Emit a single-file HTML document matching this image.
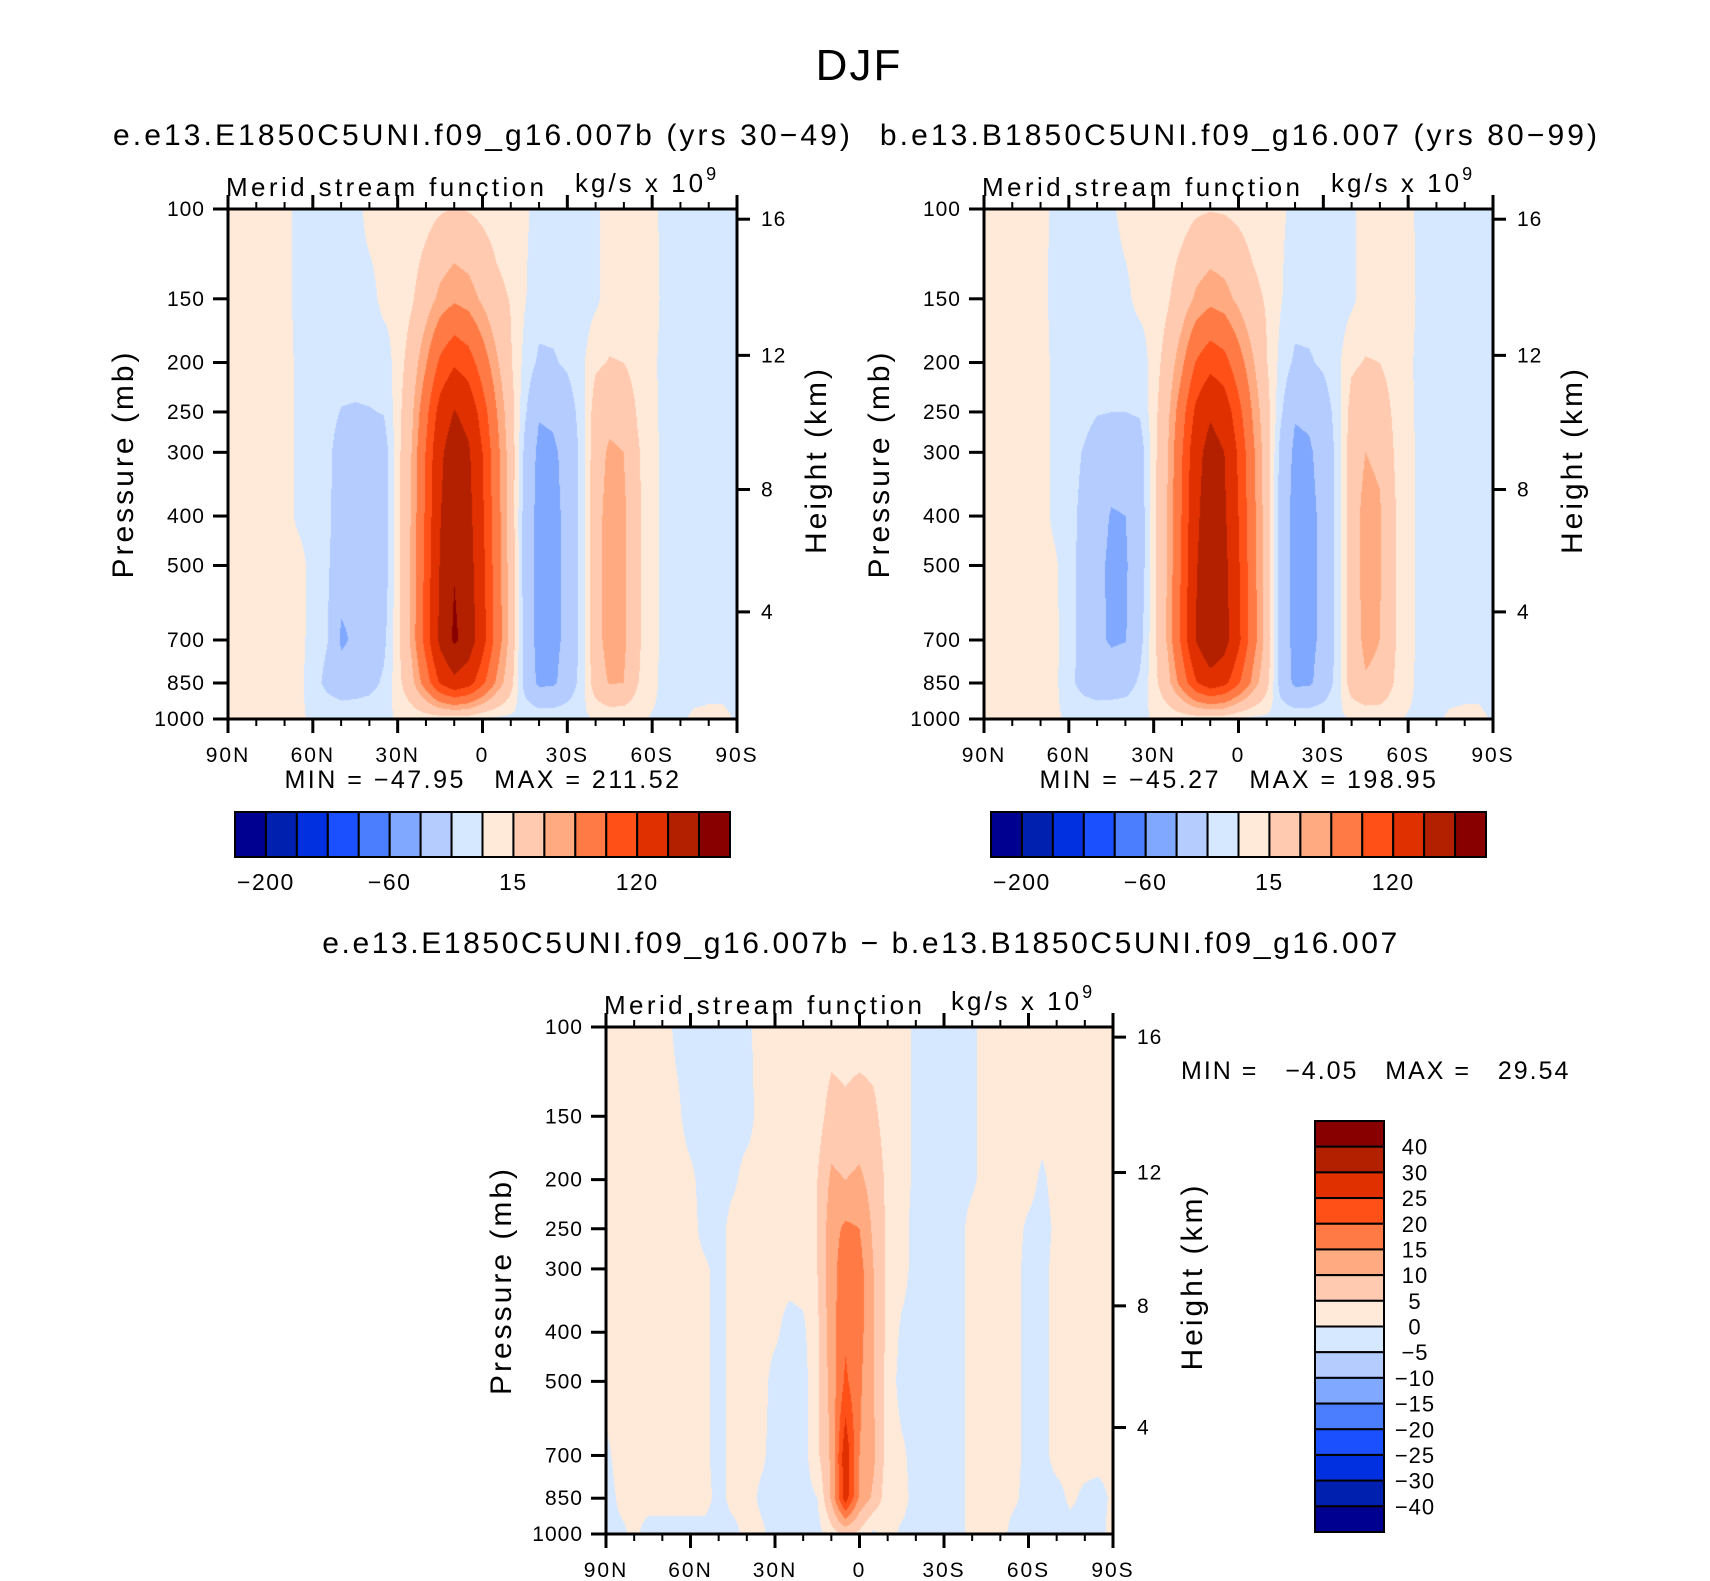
<!DOCTYPE html>
<html><head><meta charset="utf-8">
<style>
html,body{margin:0;padding:0;background:#fff;}
#wrap{position:relative;width:1710px;height:1581px;overflow:hidden;background:#fff;font-family:"Liberation Sans",sans-serif;}
canvas{position:absolute;}
svg{position:absolute;left:0;top:0;}
svg text{white-space:pre;}
</style></head>
<body>
<div id="wrap">
<canvas id="c1" width="509" height="510" style="left:228px;top:209px"></canvas>
<canvas id="c2" width="509" height="510" style="left:984px;top:209px"></canvas>
<canvas id="c3" width="507" height="507" style="left:606px;top:1027px"></canvas>
<svg id="ov" width="1710" height="1581"></svg>
</div>
<script>
// ---- data ----
const levels = [100,150,200,250,300,400,500,700,850,1000];
const lats = [90,85,80,75,70,65,60,55,50,45,40,35,30,25,20,15,10,5,0,-5,-10,-15,-20,-25,-30,-35,-40,-45,-50,-55,-60,-65,-70,-75,-80,-85,-90];
const contourLevelsTop = [-200,-160,-120,-90,-60,-40,-15,0,15,40,60,90,120,160,200];
const contourLevelsDiff = [-40,-30,-25,-20,-15,-10,-5,0,5,10,15,20,25,30,40];
const palette = ["#000090","#0020b0","#0030e0","#1a50ff","#4a7dff","#80a8ff","#b4ccff","#d6e8ff","#ffeada","#ffcab0","#ffaa80","#ff7a45","#ff5018","#e03000","#b22000","#880000"];
const topCbarLabels = ["-200","-60","15","120"];
const topCbarLabelIdx = [0,4,8,12];
const diffCbarLabels = ["40","30","25","20","15","10","5","0","\u22125","\u221210","\u221215","\u221220","\u221225","\u221230","\u221240"];
const pressureTicks = [100,150,200,250,300,400,500,700,850,1000];
const heightTicks = ["16","12","8","4"];
const heightFrac = [0.02,0.287,0.55,0.79];
const xTickLabels = ["90N","60N","30N","0","30S","60S","90S"];

const field1 = [
[5,5,5,5,5,-5,-5,-5,-5,-5,5,5,3,4,8,13,16,14,10,6,3,2,-4,-4,-4,-4,-2,4,4,4,4,-5,-5,-5,-5,-5,-5],
[5,5,5,5,5,-5,-5,-5,-5,-5,-5,4,3,13,28,46,56,50,36,21,14,1,-8,-8,-8,-8,-3,6,6,6,6,-5,-5,-5,-5,-5,-5],
[5,5,5,5,5,-3,-7,-7,-7,-7,-7,-8,6,26,58,96,116,104,75,44,17,-5,-18,-17,-12,-4,12,16,15,8,3,-5,-5,-5,-5,-5,-5],
[5,5,5,5,5,-3,-6,-8,-16,-17,-16,-14,8,36,81,134,162,146,105,61,24,-12,-38,-36,-26,-8,24,32,30,13,4,-5,-5,-5,-5,-5,-5],
[5,5,5,5,5,-3,-6,-10,-25,-26,-26,-26,9,41,92,152,184,166,120,69,28,-20,-46,-44,-33,-10,28,44,40,17,5,-5,-5,-5,-5,-5,-5],
[5,5,5,5,5,-3,-6,-10,-28,-27,-26,-26,10,43,96,158,192,173,125,72,29,-24,-48,-46,-35,-10,30,50,45,18,5,-5,-5,-5,-5,-5,-5],
[5,5,5,5,5,5,-5,-12,-30,-32,-27,-26,10,45,99,163,198,178,129,74,30,-24,-48,-46,-35,-10,30,50,45,18,5,-5,-5,-5,-5,-5,-5],
[5,5,5,5,5,5,-6,-14,-44,-36,-28,-20,10,46,103,170,206,185,134,77,31,-24,-48,-46,-35,-10,30,50,45,18,5,-5,-5,-5,-5,-5,-3],
[4,4,4,4,4,4,-8,-20,-28,-26,-22,-12,8,34,75,124,150,135,98,56,23,-22,-45,-44,-30,-8,26,42,40,16,4,-5,-5,-5,-3,-3,-3],
[2,2,2,2,2,2,-2,-2,-2,-2,-2,-2,1,3,5,6,6,5,-1,-3,-3,-3,-3,-3,-3,-3,1,2,2,2,-1,-2,-2,2,2,2,-1]
];
const field2 = [
[5,5,5,5,4,-3,-5,-5,-5,-2,4,5,3,4,7,12,14,13,10,6,3,2,-3,-4,-4,-4,-2,4,4,4,4,-5,-5,-5,-5,-5,-5],
[5,5,5,5,5,-5,-5,-5,-5,-5,-3,4,3,13,27,44,53,48,35,21,13,1,-8,-8,-8,-8,-3,6,6,6,6,-5,-5,-5,-5,-5,-5],
[5,5,5,5,5,-3,-7,-7,-7,-7,-7,-8,6,25,55,92,110,100,72,43,16,-5,-18,-17,-12,-4,12,16,15,8,3,-5,-5,-5,-5,-5,-5],
[5,5,5,5,5,-3,-6,-9,-14,-15,-15,-13,8,35,78,128,155,140,100,58,23,-12,-38,-36,-26,-8,22,30,28,12,4,-5,-5,-5,-5,-5,-5],
[5,5,5,5,5,-3,-8,-16,-25,-27,-27,-26,9,40,88,146,176,160,115,66,27,-22,-45,-43,-32,-10,26,40,36,15,5,-5,-5,-5,-5,-5,-5],
[5,5,5,5,5,-3,-9,-20,-30,-42,-40,-28,10,42,92,152,185,166,120,69,28,-26,-48,-46,-35,-10,28,48,43,17,5,-5,-5,-5,-5,-5,-5],
[5,5,5,5,5,2,-8,-22,-34,-45,-42,-28,10,43,95,157,190,171,124,71,29,-26,-48,-46,-35,-10,28,48,43,17,5,-5,-5,-5,-5,-5,-5],
[5,5,5,5,5,3,-8,-22,-35,-43,-41,-22,10,44,98,162,195,176,128,73,30,-26,-47,-46,-35,-10,28,45,40,17,5,-5,-5,-5,-5,-5,-3],
[4,4,4,4,4,3,-10,-22,-28,-27,-24,-12,8,33,72,118,143,130,94,54,22,-24,-45,-44,-30,-8,25,38,36,15,4,-5,-5,-5,-3,-3,-3],
[2,2,2,2,2,2,-2,-2,-2,-2,-2,-2,1,3,5,6,6,5,-1,-3,-3,-3,-3,-3,-3,-3,1,2,2,2,-1,-2,-2,2,2,2,-1]
];
const field3 = [
[2,2,2,2,2,-1,-2,-2,-2,-2,-1,2,2,2,2,2,3,3,3,3,2,2,-1,-2,-2,-2,-1,2,2,2,2,2,2,2,2,2,2],
[2,2,2,2,2,1,-2,-2,-2,-2,-2,2,2,2,2,3,7,6,7,6,3,2,-1,-2,-2,-2,-1,2,2,2,2,2,2,2,2,2,2],
[2,2,2,2,2,2,1,-2,-2,-1,2,2,2,2,2,5,11,10,11,8,4,2,-1,-2,-2,-2,-1,2,2,2,2,-1,2,2,2,2,2],
[2,2,2,2,2,2,2,-2,-2,2,2,2,2,2,2,5,13,16,15,9,4,2,-2,-2,-2,-2,2,2,2,2,-1,-2,1,2,2,2,2],
[2,2,2,2,2,2,2,1,-2,2,2,2,2,2,2,5,13,18,17,10,4,2,-2,-2,-2,-2,2,2,2,2,-2,-2,2,2,2,2,2],
[2,2,2,2,2,2,2,1,-2,2,2,2,1,-2,-1,4,13,19,17,10,4,-1,-2,-2,-2,-2,2,2,2,2,-2,-2,2,2,2,2,2],
[2,2,2,2,2,2,2,1,-2,2,2,2,-2,-2,-2,4,12,21,16,10,3,-2,-2,-2,-2,-2,2,2,2,2,-2,-2,2,2,2,2,2],
[-1,2,2,2,2,2,2,1,-2,2,2,1,-2,-2,-2,4,11,29,15,11,3,1,-2,-2,-2,-2,2,2,2,2,-2,-2,2,2,2,2,2],
[-2,1,2,2,2,2,2,2,-2,2,2,-1,-2,-2,-2,0,11,28,14,9,2,2,-2,-2,-2,-2,2,2,2,1,-2,-2,-2,1,-1,-2,1],
[-1,-1,1,-2,-2,-2,-2,-2,-2,-2,2,1,-2,-2,-2,-2,3,6,4,-1,2,-1,-2,-2,-2,-2,2,2,2,-2,-2,-2,-2,-2,-2,-2,2]
];

// ---- helpers ----
function hex(c){return [parseInt(c.slice(1,3),16),parseInt(c.slice(3,5),16),parseInt(c.slice(5,7),16)];}
const palRGB = palette.map(hex);
const logLev = levels.map(p=>Math.log10(p));
function latToFrac(lat){return (90-lat)/180;}
function presToFrac(p){return Math.log10(p/100);}
function sample(field,fi,lp){
  let j=0; while(j<levels.length-2 && lp>logLev[j+1]) j++;
  let t=(lp-logLev[j])/(logLev[j+1]-logLev[j]); t=Math.max(0,Math.min(1,t));
  let i0=Math.floor(fi); if(i0>=lats.length-1) i0=lats.length-2;
  let s=fi-i0;
  const a=field[j][i0]*(1-s)+field[j][i0+1]*s;
  const b=field[j+1][i0]*(1-s)+field[j+1][i0+1]*s;
  return a*(1-t)+b*t;
}
function drawField(id,field,clev){
  const cv=document.getElementById(id),ctx=cv.getContext('2d');
  const w=cv.width,h=cv.height,img=ctx.createImageData(w,h);
  for(let y=0;y<h;y++){
    const lp=Math.log10(100)+y/(h-1);
    for(let x=0;x<w;x++){
      const fi=x/(w-1)*(lats.length-1);
      const v=sample(field,fi,lp);
      let k=0; while(k<clev.length && v>=clev[k]) k++;
      const c=palRGB[k],o=(y*w+x)*4;
      img.data[o]=c[0];img.data[o+1]=c[1];img.data[o+2]=c[2];img.data[o+3]=255;
    }
  }
  ctx.putImageData(img,0,0);
}
drawField('c1',field1,contourLevelsTop);
drawField('c2',field2,contourLevelsTop);
drawField('c3',field3,contourLevelsDiff);

// ---- svg overlay ----
const svg=document.getElementById('ov');
const NS='http://www.w3.org/2000/svg';
function el(tag,attrs,parent){const e=document.createElementNS(NS,tag);for(const k in attrs)e.setAttribute(k,attrs[k]);(parent||svg).appendChild(e);return e;}
function txt(s,x,y,size,anchor,parent,extra){const t=el('text',Object.assign({x:x,y:y,'font-size':size,'text-anchor':anchor||'start','font-family':'Liberation Sans, sans-serif',fill:'#000'},extra||{}),parent);t.textContent=s;return t;}

function axes(P,name){
  const g=el('g',{});
  
  
  el('rect',{x:P.x,y:P.y,width:P.w,height:P.h,fill:'none',stroke:'#000','stroke-width':3},g);
  for(let lat=90;lat>=-90;lat-=10){
    const x=P.x+latToFrac(lat)*P.w, major=(lat%30===0);
    const L=major?14:7;
    el('line',{x1:x,y1:P.y+P.h,x2:x,y2:P.y+P.h+L,stroke:'#000','stroke-width':major?3:2},g);
    el('line',{x1:x,y1:P.y,x2:x,y2:P.y-L,stroke:'#000','stroke-width':major?3:2},g);
  }
  xTickLabels.forEach((s,i)=>{
    const x=P.x+i/6*P.w;
    const t=txt(s,x,P.y+P.h+43,21,'middle',g,{'letter-spacing':2});
    
    
  });
  pressureTicks.forEach(p=>{
    const y=P.y+presToFrac(p)*P.h;
    el('line',{x1:P.x-15,y1:y,x2:P.x,y2:y,stroke:'#000','stroke-width':3},g);
    const t=txt(String(p),P.x-23,y+7,21,'end',g,{'letter-spacing':1});
    
    
  });
  heightTicks.forEach((s,i)=>{
    const y=P.y+heightFrac[i]*P.h;
    el('line',{x1:P.x+P.w,y1:y,x2:P.x+P.w+13,y2:y,stroke:'#000','stroke-width':3},g);
    const t=txt(s,P.x+P.w+24,y+7,21,'start',g,{'letter-spacing':1});
    
    
  });
  const yl=txt('Pressure (mb)',0,0,30,'middle',g,{transform:`translate(${P.x-95},${P.y+P.h/2}) rotate(-90)`,'letter-spacing':3});
  
  
  const hl=txt('Height (km)',0,0,30,'middle',g,{transform:`translate(${P.x+P.w+89},${P.y+P.h/2-4}) rotate(-90)`,'letter-spacing':3});
  
  
  const lt=txt('Merid stream function',P.x-2,P.y-13,26,'start',g,{'letter-spacing':3.4});
  
  
  const rt=el('text',{x:P.x+P.w-162,y:P.y-17,'font-size':26,'font-family':'Liberation Sans, sans-serif','letter-spacing':3,fill:'#000'},g);
  
  
  rt.appendChild(document.createTextNode('kg/s x 10'));
  const sup=el('tspan',{dy:-12,'font-size':18},rt);
  sup.textContent='9';
}
const P1={x:228,y:209,w:509,h:510},P2={x:984,y:209,w:509,h:510},P3={x:606,y:1027,w:507,h:507};
axes(P1,'plot-e1850');axes(P2,'plot-b1850');axes(P3,'plot-diff');

function hcbar(x0,y0,w,h,name){
  const g=el('g',{});
  
  
  const bw=w/palette.length;
  palette.forEach((c,i)=>{
    const r=el('rect',{x:x0+i*bw,y:y0,width:bw,height:h,fill:c,stroke:'#000','stroke-width':2},g);
    
    
  });
  topCbarLabels.forEach((s,i)=>{
    const t=txt(s.replace('-','\u2212'),x0+(topCbarLabelIdx[i]+1)*bw,y0+h+33,23,'middle',g,{'letter-spacing':1.5});
    
    
  });
}
hcbar(235,812,495,45,'colorbar-e1850');
hcbar(991,812,495,45,'colorbar-b1850');

(function(){
  const g=el('g',{});
  
  
  const x0=1315,y0=1121,w=69,H=411,bh=H/palette.length;
  for(let i=0;i<palette.length;i++){
    const r=el('rect',{x:x0,y:y0+i*bh,width:w,height:bh,fill:palette[palette.length-1-i],stroke:'#000','stroke-width':2},g);
    
    
  }
  diffCbarLabels.forEach((s,i)=>{
    const t=txt(s,1415,y0+(i+1)*bh+8,22,'middle',g,{'letter-spacing':1});
    
    
  });
})();

let t;
t=txt('DJF',859,80,44,'middle',null,{'letter-spacing':2});


t=txt('e.e13.E1850C5UNI.f09_g16.007b (yrs 30\u221249)',483,145,30,'middle',null,{'letter-spacing':3.1});


t=txt('b.e13.B1850C5UNI.f09_g16.007 (yrs 80\u221299)',1240,145,30,'middle',null,{'letter-spacing':3.1});


t=txt('e.e13.E1850C5UNI.f09_g16.007b \u2212 b.e13.B1850C5UNI.f09_g16.007',861,953,30,'middle',null,{'letter-spacing':2.6});


t=txt('MIN = \u221247.95   MAX = 211.52',483,788,25,'middle',null,{'letter-spacing':2.5});


t=txt('MIN = \u221245.27   MAX = 198.95',1239,788,25,'middle',null,{'letter-spacing':2.5});


t=txt('MIN =   \u22124.05   MAX =   29.54',1181,1079,25,'start',null,{'letter-spacing':2});


</script>
</body></html>
